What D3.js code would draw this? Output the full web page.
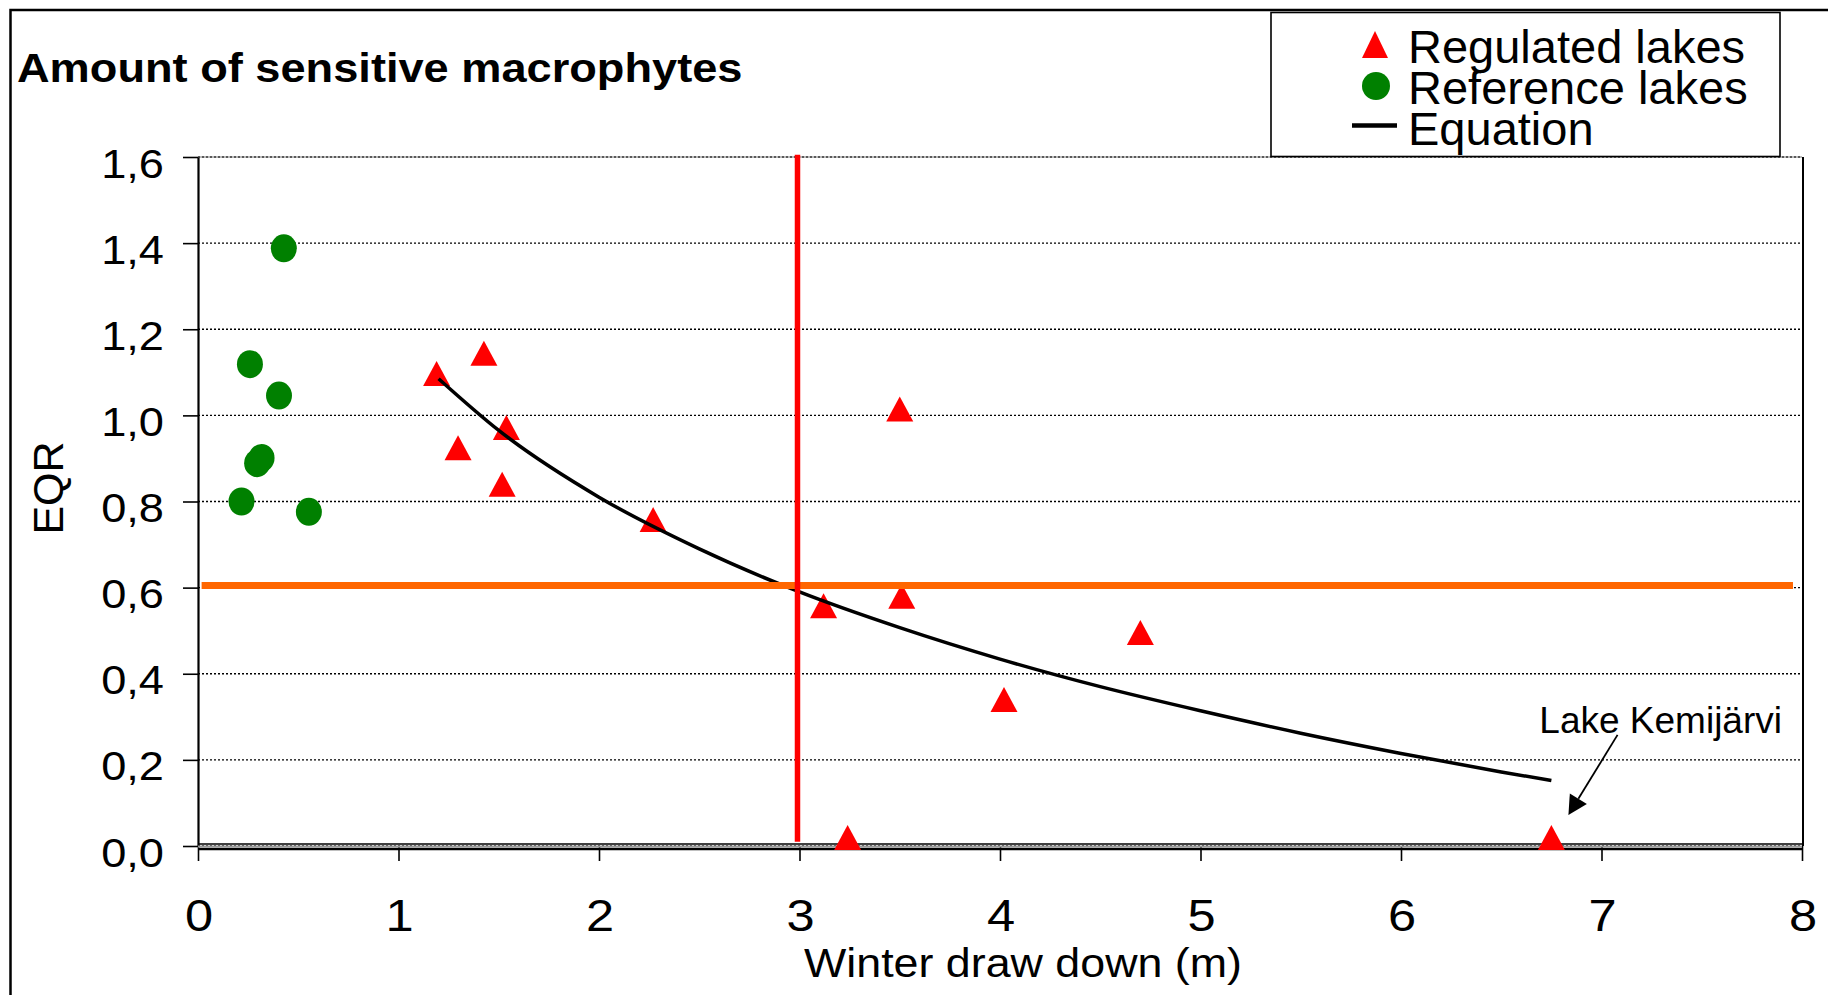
<!DOCTYPE html>
<html><head><meta charset="utf-8">
<script src="https://cdn.jsdelivr.net/npm/d3@7"></script>
<style>
html,body{margin:0;padding:0;background:#fff;overflow:hidden}
text{font-family:"Liberation Sans",Arial,sans-serif;fill:#000}
</style>
</head><body>
<svg id="chart" width="1828" height="995"></svg>
<script>
// ---- data ----
const regulatedX = [1.19, 1.426, 1.297, 1.538, 1.517, 2.27, 3.50, 3.12, 3.51, 4.70, 4.02, 3.24, 6.75];
const regulatedY = [1.097, 1.144, 0.925, 0.972, 0.840, 0.758, 1.015, 0.558, 0.580, 0.496, 0.340, 0.020, 0.020];
const referenceX = [0.428, 0.259, 0.404, 0.317, 0.295, 0.217, 0.553];
const referenceY = [1.388, 1.119, 1.046, 0.901, 0.889, 0.800, 0.776];
const equationX = [1.2, 1.5, 2.0, 2.5, 3.0, 3.5, 4.0, 4.5, 5.0, 5.5, 6.0, 6.5, 6.75];
const equationY = [1.085, 0.965, 0.81, 0.69, 0.59, 0.507, 0.434, 0.37, 0.314, 0.262, 0.215, 0.172, 0.152];
const eqrLimitX = [0.018, 7.955];
const eqrLimitY = [0.605, 0.605];
const drawDownLimitX = [2.99, 2.99];
const drawDownLimitY = [0.01, 1.605];
const xTickValues = [0, 1, 2, 3, 4, 5, 6, 7, 8];
const yTickValues = [0, 0.2, 0.4, 0.6, 0.8, 1.0, 1.2, 1.4, 1.6];
const legendLabels = ["Regulated lakes", "Reference lakes", "Equation"];
const titleText = "Amount of sensitive macrophytes";
const xTitle = "Winter draw down (m)";
const yTitle = "EQR";
const annotationText = "Lake Kemijärvi";
const annotationPos = [6.70, 0.262];
const arrowFrom = [7.08, 0.258];
const arrowTo = [6.835, 0.072];

// ---- layout ----
const FONT = "'Liberation Sans', Arial, sans-serif";
const svg = d3.select("#chart");
const x = d3.scaleLinear().domain([0, 8]).range([198, 1802]);
const y = d3.scaleLinear().domain([0, 1.6]).range([846, 157]);
const fmt = v => d3.format(".1f")(v).replace(".", ",");

// outer frame
svg.append("rect").attr("x", 10.5).attr("y", 10).attr("width", 2000).attr("height", 2000)
  .attr("fill", "none").attr("stroke", "#000").attr("stroke-width", 2.5);

// title
svg.append("text").attr("transform", "translate(17,82) scale(1.13,1)")
  .attr("font-family", FONT).attr("font-size", 40).attr("font-weight", "bold").text(titleText);

// gridlines
svg.append("g").selectAll("line").data(yTickValues).join("line")
  .attr("x1", x(0)).attr("x2", x(8)).attr("y1", d => y(d)).attr("y2", d => y(d))
  .attr("stroke", "#000").attr("stroke-width", 1.4).attr("stroke-dasharray", "2,2");

// plot border (top + right)
svg.append("line").attr("x1", x(0)).attr("x2", x(8)).attr("y1", y(1.6)).attr("y2", y(1.6))
  .attr("stroke", "#777").attr("stroke-width", 1.2);
svg.append("line").attr("x1", x(8) + 1).attr("x2", x(8) + 1).attr("y1", y(1.6)).attr("y2", y(0))
  .attr("stroke", "#000").attr("stroke-width", 2);

// y axis
const yAxis = svg.append("g").attr("transform", `translate(${x(0)},0)`)
  .call(d3.axisLeft(y).tickValues(yTickValues).tickSize(15).tickSizeOuter(0).tickFormat(fmt));
yAxis.attr("font-family", FONT);
yAxis.select(".domain").attr("stroke-width", 2.2);
yAxis.selectAll(".tick line").attr("stroke-width", 1.6);
yAxis.selectAll(".tick text").attr("x", 0).attr("dy", 0)
  .attr("transform", "translate(-34,20) scale(1.13,1)")
  .attr("font-size", 40).attr("font-family", FONT);

// x axis
const xAxis = svg.append("g").attr("transform", `translate(0,${y(0)})`)
  .call(d3.axisBottom(x).tickValues(xTickValues).tickSize(15).tickSizeOuter(0).tickFormat(d3.format("d")));
xAxis.attr("font-family", FONT);
xAxis.select(".domain").attr("stroke-width", 2.5).attr("transform", "translate(0,2.5)");
xAxis.selectAll(".tick line").attr("stroke-width", 1.6);
xAxis.selectAll(".tick text").attr("y", 0).attr("dy", 0)
  .attr("transform", "translate(0.5,85) scale(1.15,1)")
  .attr("font-size", 44).attr("font-family", FONT);
svg.append("line").attr("x1", x(0)).attr("x2", x(8)).attr("y1", y(0) - 2).attr("y2", y(0) - 2)
  .attr("stroke", "#000").attr("stroke-width", 1.5);
svg.append("line").attr("x1", x(0)).attr("x2", x(8)).attr("y1", y(0) + 0.5).attr("y2", y(0) + 0.5)
  .attr("stroke", "#999").attr("stroke-width", 2);

// axis titles
svg.append("text").attr("transform", "translate(1023,977) scale(1.12,1)")
  .attr("font-family", FONT).attr("text-anchor", "middle").attr("font-size", 40).text(xTitle);
svg.append("text").attr("transform", "translate(63,488) rotate(-90)")
  .attr("font-family", FONT).attr("text-anchor", "middle").attr("font-size", 43).text(yTitle);

// reference lakes
svg.append("g").selectAll("ellipse").data(d3.range(referenceX.length)).join("ellipse")
  .attr("cx", i => x(referenceX[i])).attr("cy", i => y(referenceY[i]))
  .attr("rx", 13).attr("ry", 14).attr("fill", "#008000");

// regulated lakes
const tri = "M0,-12.5L13.5,12.5L-13.5,12.5Z";
svg.append("g").selectAll("path").data(d3.range(regulatedX.length)).join("path")
  .attr("d", tri).attr("transform", i => `translate(${x(regulatedX[i])},${y(regulatedY[i])})`)
  .attr("fill", "#FF0000");

// equation curve
const line = d3.line().x(i => x(equationX[i])).y(i => y(equationY[i])).curve(d3.curveMonotoneX);
svg.append("path").attr("d", line(d3.range(equationX.length)))
  .attr("fill", "none").attr("stroke", "#000").attr("stroke-width", 3.5);

// EQR limit (orange)
svg.append("line").attr("x1", x(eqrLimitX[0])).attr("x2", x(eqrLimitX[1]))
  .attr("y1", y(eqrLimitY[0])).attr("y2", y(eqrLimitY[1]))
  .attr("stroke", "#FF6600").attr("stroke-width", 7);

// draw-down limit (red)
svg.append("line").attr("x1", x(drawDownLimitX[0])).attr("x2", x(drawDownLimitX[1]))
  .attr("y1", y(drawDownLimitY[0])).attr("y2", y(drawDownLimitY[1]))
  .attr("stroke", "#FF0000").attr("stroke-width", 5.5);

// annotation
svg.append("text").attr("x", x(annotationPos[0]) - 2).attr("y", y(annotationPos[1]))
  .attr("font-family", FONT).attr("font-size", 37).text(annotationText);
{
  const fx = x(arrowFrom[0]), fy = y(arrowFrom[1]), tx = x(arrowTo[0]), ty = y(arrowTo[1]);
  const dx = tx - fx, dy = ty - fy, L = Math.hypot(dx, dy), ux = dx / L, uy = dy / L;
  const hl = 19, hw = 10;
  const bx = tx - ux * hl, by = ty - uy * hl;
  svg.append("line").attr("x1", fx).attr("y1", fy).attr("x2", bx).attr("y2", by)
    .attr("stroke", "#000").attr("stroke-width", 1.8);
  svg.append("path").attr("d", `M${tx},${ty}L${bx - uy * hw},${by + ux * hw}L${bx + uy * hw},${by - ux * hw}Z`)
    .attr("fill", "#000");
}

// legend
const lg = svg.append("g");
lg.append("rect").attr("x", 1271).attr("y", 12.5).attr("width", 509).attr("height", 144)
  .attr("fill", "#fff").attr("stroke", "#000").attr("stroke-width", 1.6);
lg.append("path").attr("d", "M0,-13.5L13,13.5L-13,13.5Z").attr("transform", "translate(1375,44.5)").attr("fill", "#FF0000");
lg.append("circle").attr("cx", 1376).attr("cy", 86).attr("r", 14).attr("fill", "#008000");
lg.append("line").attr("x1", 1352).attr("x2", 1397).attr("y1", 125.5).attr("y2", 125.5)
  .attr("stroke", "#000").attr("stroke-width", 4.5);
const baselines = [63, 104, 145];
lg.selectAll("text.lab").data(legendLabels).join("text").attr("class", "lab")
  .attr("x", 1408).attr("y", (d, i) => baselines[i]).attr("font-family", FONT).attr("font-size", 47).text(d => d);
</script>
</body></html>
